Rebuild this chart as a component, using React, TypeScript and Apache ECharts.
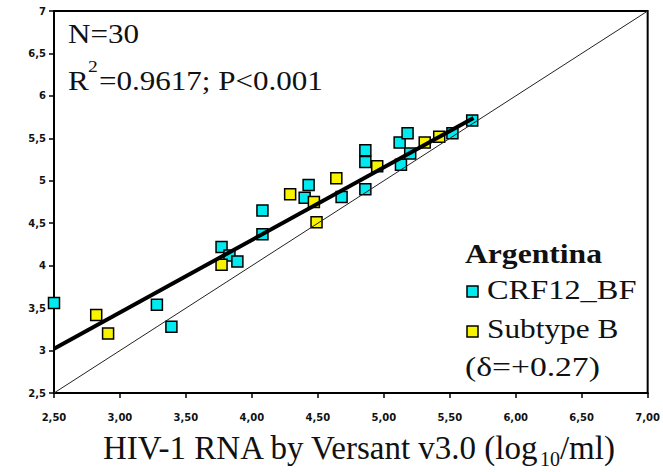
import React, { useEffect, useRef } from "react";
import * as echarts from "echarts";

// CRF12_BF (cyan) points
const crfX = [2.5, 3.28, 3.39, 3.77, 3.83, 3.89, 4.08, 4.08, 4.4, 4.43, 4.68, 4.86, 4.86, 4.86, 5.12, 5.13, 5.18, 5.2, 5.52, 5.67];
const crfY = [3.56, 3.54, 3.28, 4.22, 4.12, 4.05, 4.65, 4.37, 4.8, 4.95, 4.81, 4.9, 5.22, 5.36, 5.45, 5.19, 5.56, 5.32, 5.56, 5.71];
// Subtype B (yellow) points
const subBX = [2.82, 2.91, 3.77, 4.29, 4.47, 4.49, 4.64, 4.95, 5.31, 5.42];
const subBY = [3.42, 3.2, 4.01, 4.84, 4.75, 4.51, 5.03, 5.17, 5.45, 5.52];
// Regression line endpoints
const regX = [2.5, 5.68];
const regY = [3.02, 5.74];
// Identity line endpoints
const idX = [2.5, 7];
const idY = [2.5, 7];

const xTicks = { min: 2.5, max: 7, interval: 0.5 };
const yTicks = { min: 2.5, max: 7, interval: 0.5 };

const legendNames = ["CRF12_BF", "Subtype B"];

const CYAN = "#00EAF0";
const YELLOW = "#F8F400";
const SERIF = "Liberation Serif";
const SX = 1.15;

export default function App() {
  const ref = useRef<HTMLDivElement>(null);
  useEffect(() => {
    if (!ref.current) return;
    const chart = echarts.init(ref.current, undefined, { renderer: "svg" });
    const zip = (xs: number[], ys: number[]) => xs.map((x, i) => [x, ys[i]]);
    const txt = (text: string, x: number, y: number, size: number, weight = "normal", sx = SX) => ({
      type: "text",
      x,
      y,
      scaleX: sx,
      z: 10,
      style: {
        text,
        fontFamily: SERIF,
        fontSize: size,
        fontWeight: weight,
        fill: "#111",
        align: "left",
        verticalAlign: "middle",
      },
    });
    const box = (x: number, y: number, color: string) => ({
      type: "rect",
      z: 10,
      shape: { x, y, width: 11, height: 11 },
      style: { fill: color, stroke: "#000", lineWidth: 1.5 },
    });
    chart.setOption({
      animation: false,
      backgroundColor: "#fff",
      grid: {
        left: 54,
        right: 13,
        top: 11,
        bottom: 79,
        show: true,
        borderColor: "#000",
        borderWidth: 2,
      },
      xAxis: {
        type: "value",
        min: xTicks.min,
        max: xTicks.max,
        interval: xTicks.interval,
        axisLine: { show: true, lineStyle: { color: "#000", width: 2 } },
        axisTick: { show: true, length: 5, lineStyle: { color: "#000", width: 1.5 } },
        splitLine: { show: false },
        axisLabel: {
          margin: 19,
          fontFamily: "DejaVu Sans",
          fontWeight: "bold",
          fontSize: 10,
          color: "#111",
          formatter: (v: number) => v.toFixed(2).replace(".", ","),
        },
      },
      yAxis: {
        type: "value",
        min: yTicks.min,
        max: yTicks.max,
        interval: yTicks.interval,
        axisLine: { show: true, lineStyle: { color: "#000", width: 2 } },
        axisTick: { show: true, length: 5, lineStyle: { color: "#000", width: 1.5 } },
        splitLine: { show: false },
        axisLabel: {
          margin: 8,
          fontFamily: "DejaVu Sans",
          fontWeight: "bold",
          fontSize: 10,
          color: "#111",
          formatter: (v: number) =>
            Number.isInteger(v) ? String(v) : v.toFixed(1).replace(".", ","),
        },
      },
      series: [
        {
          name: legendNames[0],
          type: "scatter",
          symbol: "rect",
          symbolSize: 11,
          z: 2,
          itemStyle: { color: CYAN, borderColor: "#000", borderWidth: 1.5, opacity: 1 },
          data: zip(crfX, crfY),
        },
        {
          name: legendNames[1],
          type: "scatter",
          symbol: "rect",
          symbolSize: 11,
          z: 2,
          itemStyle: { color: YELLOW, borderColor: "#000", borderWidth: 1.5, opacity: 1 },
          data: zip(subBX, subBY),
        },
        {
          name: "identity",
          type: "line",
          z: 4,
          symbol: "none",
          silent: true,
          lineStyle: { color: "#222", width: 1 },
          data: zip(idX, idY),
        },
        {
          name: "regression",
          type: "line",
          z: 5,
          symbol: "none",
          silent: true,
          lineStyle: { color: "#000", width: 4 },
          data: zip(regX, regY),
        },
      ],
      graphic: [
        txt("N=30", 68, 34, 27),
        txt("R", 68, 80.5, 27),
        txt("2", 88, 66, 17),
        txt("=0.9617; P<0.001", 99, 80.5, 27),
        txt("Argentina", 465, 253, 28, "bold", 1.13),
        box(467, 286, CYAN),
        txt(legendNames[0], 487, 289, 27, "normal", 1.2),
        box(467, 326, YELLOW),
        txt(legendNames[1], 487, 329, 27, "normal", 1.16),
        txt("(δ=+0.27)", 465, 366, 28, "normal", 1.2),
        {
          type: "text",
          x: 103,
          y: 447,
          z: 10,
          style: {
            text: "{m|HIV-1 RNA by Versant v3.0 (log}{s|10}{m|/ml)}",
            fontFamily: SERIF,
            fontSize: 33,
            fill: "#111",
            align: "left",
            verticalAlign: "middle",
            rich: {
              m: { fontFamily: SERIF, fontSize: 33, lineHeight: 34, verticalAlign: "bottom", fill: "#111" },
              s: { fontFamily: SERIF, fontSize: 20, lineHeight: 34, verticalAlign: "bottom", padding: [0, 0, -5, 0], fill: "#111" },
            },
          },
        },
      ],
    });
    return () => chart.dispose();
  }, []);
  return (
    <div
      ref={ref}
      style={{ position: "fixed", left: 0, top: 0, width: 663, height: 472, background: "#fff" }}
    />
  );
}
